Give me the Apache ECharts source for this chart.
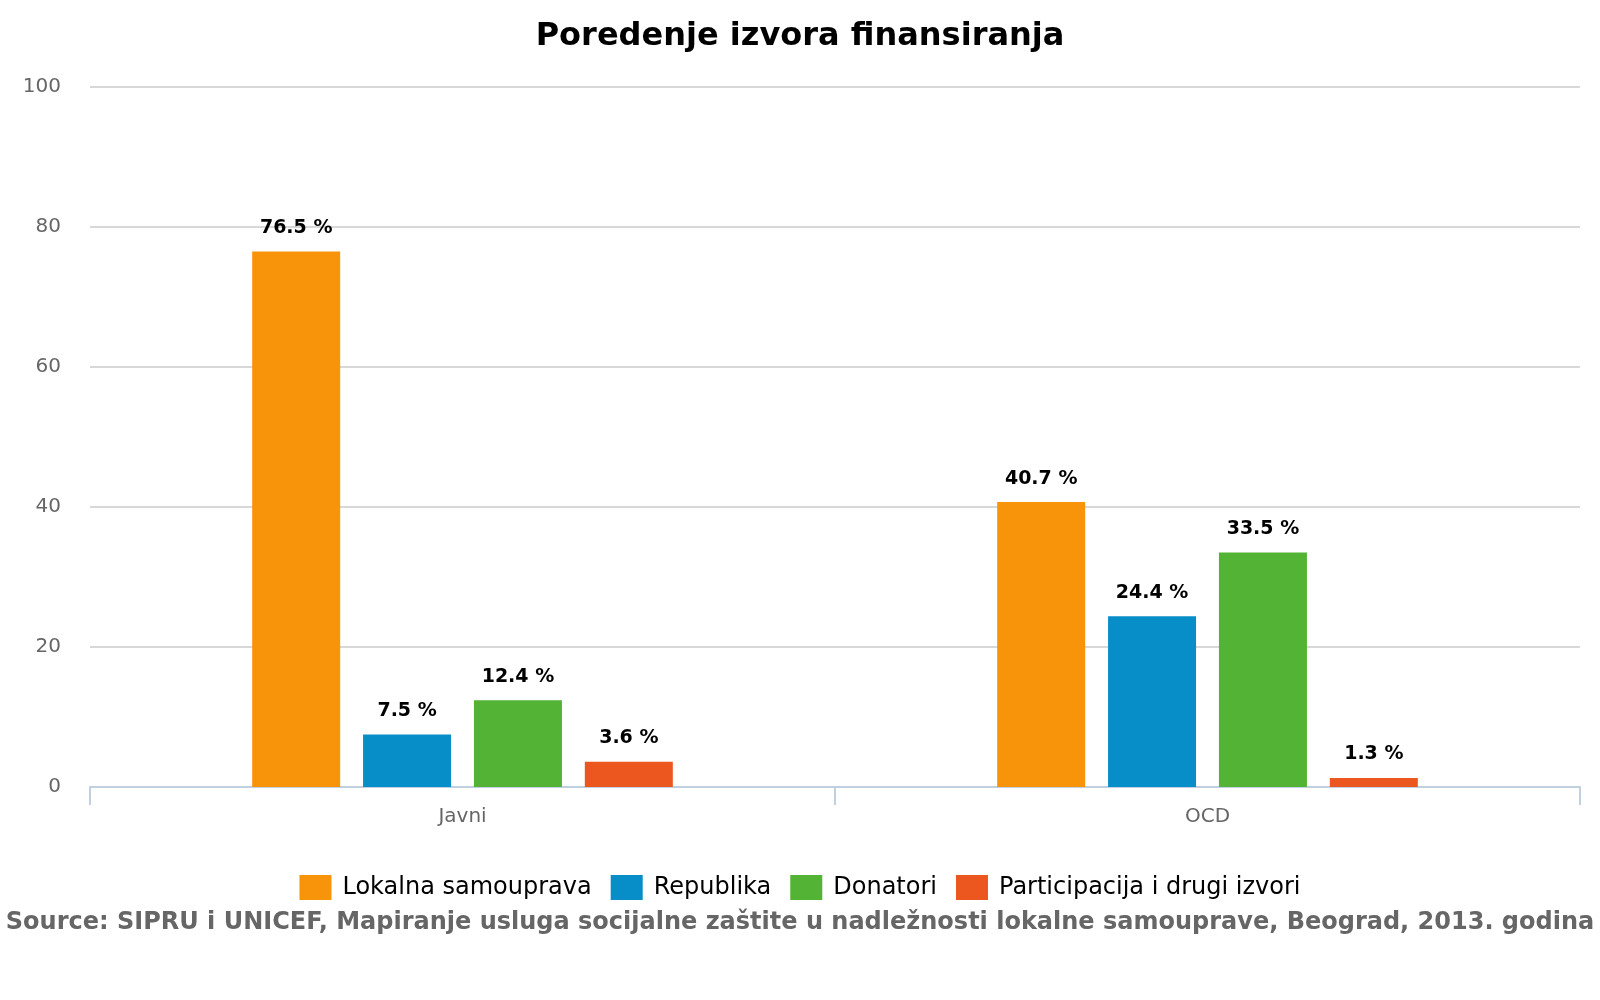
<!DOCTYPE html>
<html lang="en">
<head>
    <meta charset="UTF-8">
    <title>Poredenje izvora finansiranja</title>
    <script src="https://cdn.jsdelivr.net/npm/echarts@6/dist/echarts.min.js"></script>
    <style>
        html, body { margin: 0; padding: 0; background: #fff; }
    </style>
</head>
<body>
    <div id="main" style="width: 1600px;height:1000px;"></div>

    <script type="text/javascript">

        var categories = ['Javni', 'OCD']
        var seriesNames = ['Lokalna samouprava', 'Republika', 'Donatori', 'Participacija i drugi izvori']
        var lokalna = [76.5, 40.7]
        var republika = [7.5, 24.4]
        var donatori = [12.4, 33.5]
        var participacija = [3.6, 1.3]
        var yTicks = [0, 20, 40, 60, 80, 100]

        var colors = ['#F7940A', '#078DC7', '#52B334', '#EB571F']
        var font = '"DejaVu Sans", Verdana, sans-serif'

        var myChart = echarts.init(document.getElementById('main'));

        function makeSeries(name, data) {
            return {
                name: name,
                type: 'bar',
                data: data,
                barWidth: 88,
                barGap: '26%',
                label: {
                    show: true,
                    position: 'top',
                    distance: 14,
                    formatter: '{c} %',
                    fontFamily: font,
                    fontWeight: 'bold',
                    fontSize: 19,
                    color: '#000'
                }
            }
        }

        var option = {
            color: colors,
            animation: false,
            title: [{
                left: 'center',
                top: 16,
                text: 'Poredenje izvora finansiranja',
                textStyle: { fontFamily: font, fontWeight: 'bold', fontSize: 32, color: '#000' }
            }, {
                left: 'center',
                top: 906,
                text: 'Source: SIPRU i UNICEF, Mapiranje usluga socijalne zaštite u nadležnosti lokalne samouprave, Beograd, 2013. godina',
                textStyle: { fontFamily: font, fontWeight: 'bold', fontSize: 24, color: '#666' }
            }],
            legend: {
                top: 870,
                left: 'center',
                itemWidth: 32,
                itemHeight: 25,
                itemGap: 19,
                icon: 'rect',
                data: seriesNames,
                textStyle: { fontFamily: font, fontSize: 24, color: '#000', padding: [0, 0, 0, 6] }
            },
            grid: {
                left: 90,
                right: 20,
                top: 87,
                bottom: 213,
                containLabel: false
            },
            xAxis: {
                type: 'category',
                data: categories,
                axisLine: { lineStyle: { color: '#C0D0E0', width: 2 } },
                axisTick: { show: true, length: 18, lineStyle: { color: '#C0D0E0', width: 2 } },
                axisLabel: { fontFamily: font, fontSize: 20, color: '#666', margin: 20 }
            },
            yAxis: {
                type: 'value',
                min: yTicks[0],
                max: yTicks[yTicks.length - 1],
                interval: 20,
                axisLine: { show: false },
                axisTick: { show: false },
                axisLabel: { fontFamily: font, fontSize: 20, color: '#666', margin: 29 },
                splitLine: { lineStyle: { color: '#D8D8D8', width: 2 } }
            },
            series: [
                makeSeries(seriesNames[0], lokalna),
                makeSeries(seriesNames[1], republika),
                makeSeries(seriesNames[2], donatori),
                makeSeries(seriesNames[3], participacija)
            ]
        };
        myChart.setOption(option);
    </script>
</body>
</html>
